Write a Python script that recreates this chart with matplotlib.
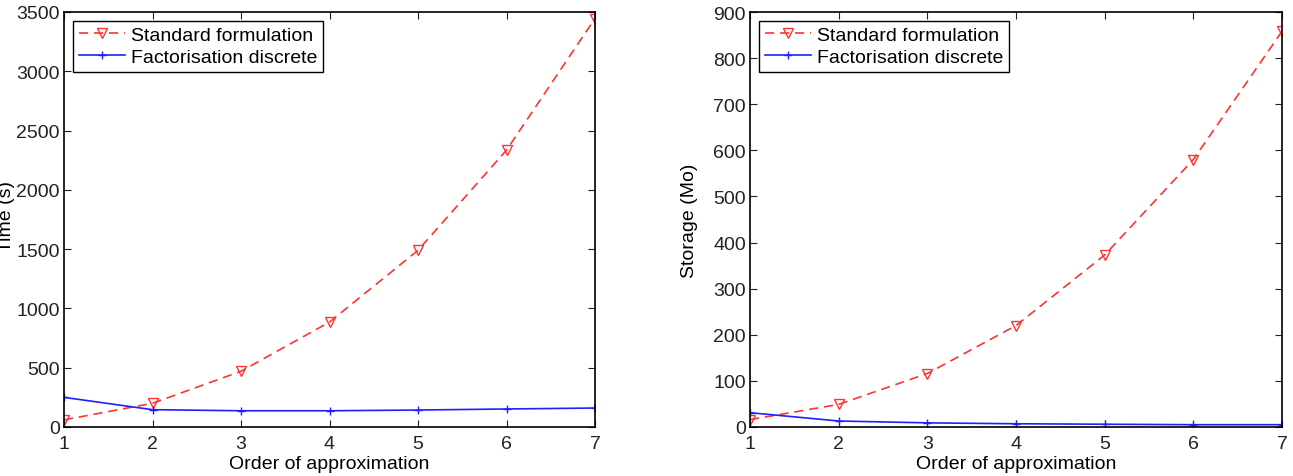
import matplotlib.pyplot as plt
import numpy as np

plt.rcParams['font.family'] = ['Liberation Sans', 'DejaVu Sans']
plt.rcParams['font.size'] = 14

order = [1, 2, 3, 4, 5, 6, 7]
time_standard = [60, 200, 470, 885, 1490, 2335, 3445]
time_factor = [250, 146, 137, 137, 143, 152, 160]
storage_standard = [16, 49, 116, 220, 373, 580, 858]
storage_factor = [31, 13, 9, 7, 6, 5, 5]

fig = plt.figure(figsize=(12.93, 4.77), dpi=100)
ax1 = fig.add_axes([64 / 1293, 49 / 477, 531 / 1293, 415 / 477])
ax2 = fig.add_axes([750 / 1293, 49 / 477, 532 / 1293, 415 / 477])


def draw(ax, ys, yf, ymax, ystep, ylabel):
    ax.plot(order, ys, '--', color='#ff3333', marker='v', markerfacecolor='none',
            markeredgecolor='#ff3333', markersize=7, lw=1.2, dashes=(5.5, 3.5),
            label='Standard formulation')
    ax.plot(order, yf, '-', color='#2020ff', marker='+', markersize=6, lw=1.2,
            label='Factorisation discrete')
    ax.set_xlim(1, 7)
    ax.set_ylim(0, ymax)
    ax.set_xticks(order)
    ax.set_yticks(np.arange(0, ymax + 1, ystep))
    ax.tick_params(direction='in', top=True, right=True, length=5, colors='#222222',
                   labelsize=14)
    ax.tick_params(axis='x', pad=6)
    ax.tick_params(axis='y', pad=3)
    for s in ax.spines.values():
        s.set_linewidth(1.2)
    ax.set_xlabel('Order of approximation', fontsize=14, labelpad=2)
    ax.set_ylabel(ylabel, fontsize=14)
    leg = ax.legend(loc='upper left', fancybox=False, edgecolor='black', framealpha=1,
                    fontsize=14, handlelength=2.4, borderpad=0.3, labelspacing=0.2,
                    handletextpad=0.3, borderaxespad=0.45)
    leg.get_frame().set_linewidth(1.0)


draw(ax1, time_standard, time_factor, 3500, 500, 'Time (s)')
draw(ax2, storage_standard, storage_factor, 900, 100, 'Storage (Mo)')
# the time label sits tight against the tick labels, as in the original
ax1.yaxis.set_label_coords(-0.093, 0.51)
ax2.yaxis.set_label_coords(-0.098, 0.5)

fig.savefig('out.png', dpi=100)
